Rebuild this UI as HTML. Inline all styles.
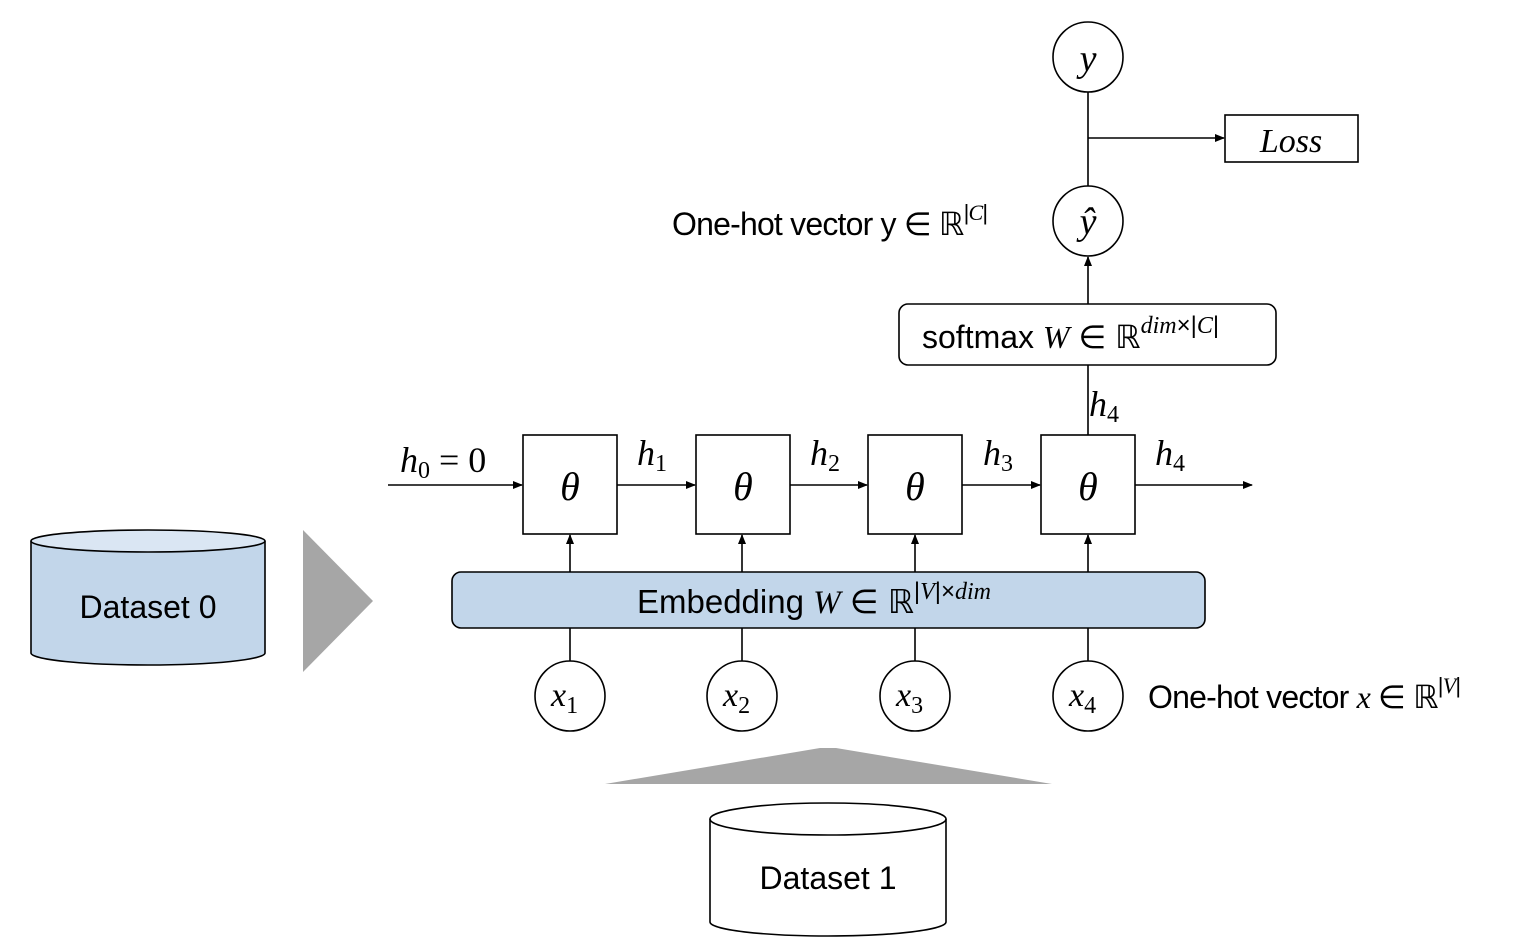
<!DOCTYPE html>
<html><head><meta charset="utf-8"><style>
html,body{margin:0;padding:0;background:#fff;}
svg{display:block}
.s{font-family:"Liberation Sans","DejaVu Sans",sans-serif;fill:#000;font-style:normal}
.m{font-family:"Liberation Serif","DejaVu Serif",serif;font-style:italic;fill:#000}
.r{font-family:"Liberation Serif","DejaVu Serif",serif;font-style:normal;fill:#000}
</style></head><body>
<svg width="1536" height="942" viewBox="0 0 1536 942" xmlns="http://www.w3.org/2000/svg">
<defs><marker id="a" markerWidth="10" markerHeight="8" refX="9" refY="4" orient="auto" markerUnits="userSpaceOnUse"><path d="M0,0 L10,4 L0,8 z" fill="#000"/></marker></defs>
<g stroke="#000" stroke-width="1.6" fill="none">
<circle cx="1088" cy="57" r="35" fill="#fff"/>
<circle cx="1088" cy="221" r="35" fill="#fff"/>
<line x1="1088" y1="92" x2="1088" y2="186"/>
<line x1="1088" y1="138" x2="1224" y2="138" marker-end="url(#a)"/>
<rect x="1225" y="115" width="133" height="47" fill="#fff"/>
<line x1="1088" y1="304" x2="1088" y2="257" marker-end="url(#a)"/>
<rect x="899" y="304" width="377" height="61" rx="9" fill="#fff"/>
<line x1="1088" y1="365" x2="1088" y2="435"/>
<line x1="388" y1="485" x2="522" y2="485" marker-end="url(#a)"/>
<line x1="617" y1="485" x2="695" y2="485" marker-end="url(#a)"/>
<line x1="790" y1="485" x2="867" y2="485" marker-end="url(#a)"/>
<line x1="962" y1="485" x2="1040" y2="485" marker-end="url(#a)"/>
<line x1="1135" y1="485" x2="1252" y2="485" marker-end="url(#a)"/>
<rect x="523" y="435" width="94" height="99" fill="#fff"/>
<rect x="696" y="435" width="94" height="99" fill="#fff"/>
<rect x="868" y="435" width="94" height="99" fill="#fff"/>
<rect x="1041" y="435" width="94" height="99" fill="#fff"/>
<line x1="570" y1="572" x2="570" y2="535" marker-end="url(#a)"/>
<line x1="742" y1="572" x2="742" y2="535" marker-end="url(#a)"/>
<line x1="915" y1="572" x2="915" y2="535" marker-end="url(#a)"/>
<line x1="1088" y1="572" x2="1088" y2="535" marker-end="url(#a)"/>
<rect x="452" y="572" width="753" height="56" rx="9" fill="#c2d6ea"/>
<line x1="570" y1="628" x2="570" y2="661"/>
<line x1="742" y1="628" x2="742" y2="661"/>
<line x1="915" y1="628" x2="915" y2="661"/>
<line x1="1088" y1="628" x2="1088" y2="661"/>
<ellipse cx="570" cy="696" rx="35" ry="35" fill="#fff"/>
<ellipse cx="742" cy="696" rx="35" ry="35" fill="#fff"/>
<ellipse cx="915" cy="696" rx="35" ry="35" fill="#fff"/>
<ellipse cx="1088" cy="696" rx="35" ry="35" fill="#fff"/>
<path d="M31,541 L31,653 A117,12 0 0 0 265,653 L265,541" fill="#c2d6ea"/>
<ellipse cx="148" cy="541" rx="117" ry="11" fill="#dae6f3"/>
<path d="M710,819 L710,922 A118,14 0 0 0 946,922 L946,819" fill="#fff"/>
<ellipse cx="828" cy="819" rx="118" ry="16" fill="#fff"/>
</g>
<polygon points="303,530 373,601 303,672" fill="#a6a6a6"/>
<polygon points="605,784 820,748 836,748 1052,784" fill="#a6a6a6"/>
<text class="m" x="1088" y="71" font-size="38" text-anchor="middle">y</text>
<text class="m" x="1088" y="234" font-size="38" text-anchor="middle">ŷ</text>
<text class="m" x="1291" y="152" font-size="34" text-anchor="middle">Loss</text>
<text class="s" x="672" y="235" font-size="32" letter-spacing="-0.8">One-hot vector y ∈ ℝ<tspan font-size="22" dy="-15">|<tspan class="m">C</tspan>|</tspan></text>
<text class="s" x="922" y="348" font-size="32">softmax <tspan class="m">W</tspan> ∈ ℝ<tspan font-size="24" dy="-15"><tspan class="m">dim</tspan><tspan class="s">×|</tspan><tspan class="m">C</tspan><tspan class="s">|</tspan></tspan></text>
<text class="m" x="1089" y="416" font-size="36">h<tspan class="r" font-size="24" dy="6">4</tspan></text>
<text class="m" x="400" y="472" font-size="36">h<tspan class="r" font-size="24" dy="6">0</tspan><tspan class="r" dy="-6"> = 0</tspan></text>
<text class="m" x="637" y="465" font-size="36">h<tspan class="r" font-size="24" dy="6">1</tspan></text>
<text class="m" x="810" y="465" font-size="36">h<tspan class="r" font-size="24" dy="6">2</tspan></text>
<text class="m" x="983" y="465" font-size="36">h<tspan class="r" font-size="24" dy="6">3</tspan></text>
<text class="m" x="1155" y="465" font-size="36">h<tspan class="r" font-size="24" dy="6">4</tspan></text>
<text class="m" x="570" y="500" font-size="40" text-anchor="middle">θ</text>
<text class="m" x="743" y="500" font-size="40" text-anchor="middle">θ</text>
<text class="m" x="915" y="500" font-size="40" text-anchor="middle">θ</text>
<text class="m" x="1088" y="500" font-size="40" text-anchor="middle">θ</text>
<text class="s" x="637" y="613" font-size="33">Embedding <tspan class="m">W</tspan> ∈ ℝ<tspan font-size="24" dy="-14">|<tspan class="m">V</tspan><tspan class="s">|×</tspan><tspan class="m">dim</tspan></tspan></text>
<text class="m" x="551" y="706" font-size="34">x<tspan class="r" font-size="24" dy="7">1</tspan></text>
<text class="m" x="723" y="706" font-size="34">x<tspan class="r" font-size="24" dy="7">2</tspan></text>
<text class="m" x="896" y="706" font-size="34">x<tspan class="r" font-size="24" dy="7">3</tspan></text>
<text class="m" x="1069" y="706" font-size="34">x<tspan class="r" font-size="24" dy="7">4</tspan></text>
<text class="s" x="1148" y="708" font-size="32" letter-spacing="-0.8">One-hot vector <tspan class="m">x</tspan> ∈ ℝ<tspan font-size="22" dy="-15">|<tspan class="m">V</tspan>|</tspan></text>
<text class="s" x="148" y="618" font-size="32" text-anchor="middle">Dataset 0</text>
<text class="s" x="828" y="889" font-size="32" text-anchor="middle">Dataset 1</text>
</svg>
</body></html>
